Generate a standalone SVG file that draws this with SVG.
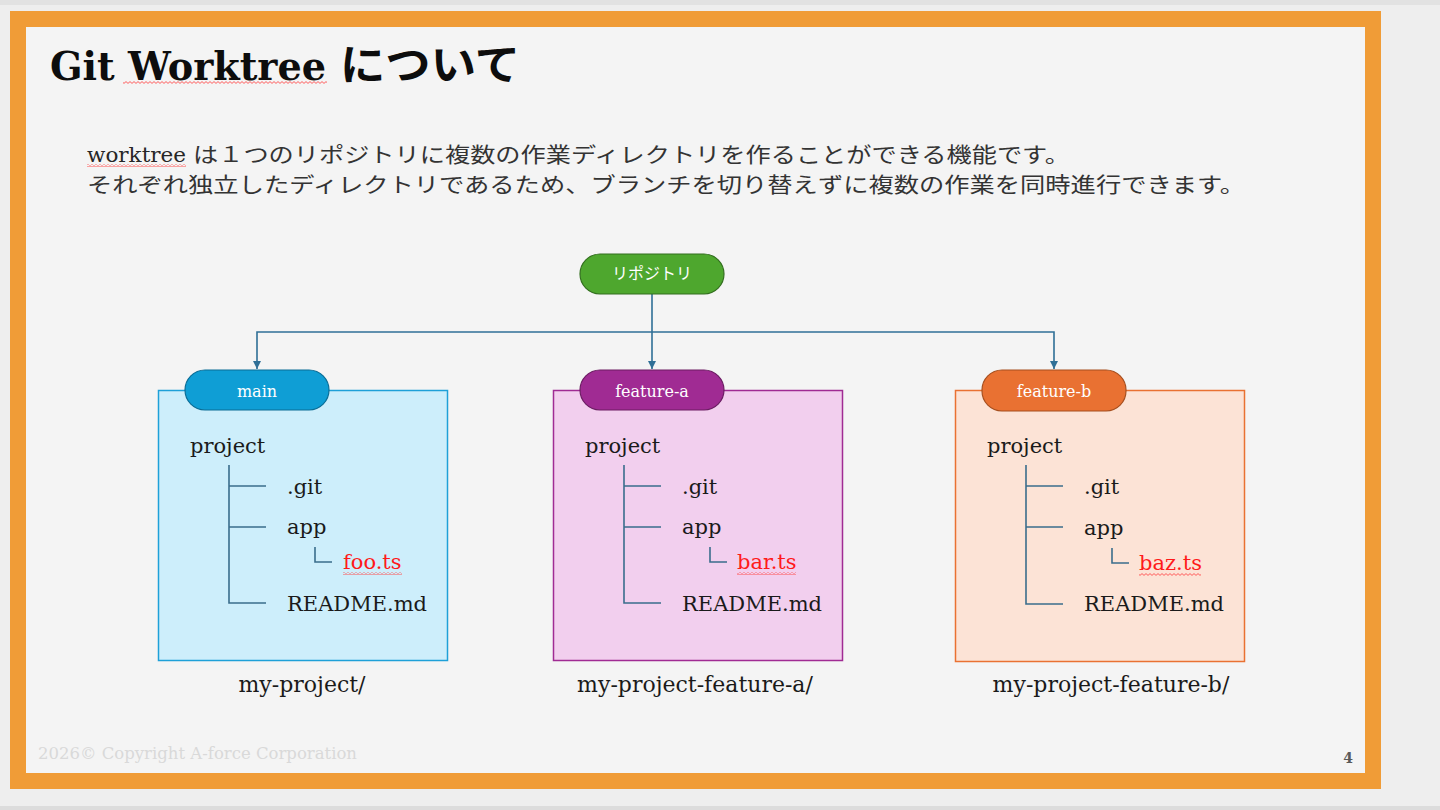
<svg xmlns="http://www.w3.org/2000/svg" width="1440" height="810" viewBox="0 0 1440 810">
<defs>
<style>
.jp{font-family:"Noto Sans CJK JP","Noto Sans",sans-serif;}
.sr{font-family:"DejaVu Serif","Liberation Serif",serif;}
.tree{font-family:"DejaVu Serif","Liberation Serif",serif;font-size:21px;fill:#1a1a1a;}
.red{fill:#ff1a1a;}
.pilltxt{font-family:"DejaVu Serif","Liberation Serif",serif;font-size:16px;fill:#ffffff;text-anchor:middle;}
.cap{font-family:"DejaVu Serif","Liberation Serif",serif;font-size:22px;fill:#1a1a1a;text-anchor:middle;}
.tl{stroke:#3a6d8c;stroke-width:1.6;fill:none;}
.conn{stroke:#2f6f96;stroke-width:1.6;fill:none;}
</style>
<pattern id="wavy" patternUnits="userSpaceOnUse" width="4" height="3">
<path d="M0,2.4 L2,0.6 L4,2.4" stroke="#ff4d4d" stroke-width="0.9" fill="none"/>
</pattern>
<marker id="arr" markerWidth="10" markerHeight="10" refX="8" refY="5" orient="auto" markerUnits="userSpaceOnUse">
<path d="M0,1 L8,5 L0,9 Z" fill="#2f6f96"/>
</marker>
</defs>
<rect x="0" y="0" width="1440" height="810" fill="#eeeeee"/>
<rect x="0" y="0" width="1440" height="5" fill="#e2e2e2"/>
<rect x="0" y="806" width="1440" height="4" fill="#dcdcdc"/>
<rect x="10" y="11" width="1371" height="778" fill="#f09c37"/>
<rect x="26" y="27" width="1339" height="746" fill="#f4f4f4"/>

<g id="title">
<text x="50" y="80" class="sr" font-size="40" font-weight="bold" fill="#0d0d0d" textLength="276" lengthAdjust="spacingAndGlyphs">Git Worktree</text>
<text x="340" y="80" class="jp" font-size="42" font-weight="bold" fill="#0d0d0d" textLength="180" lengthAdjust="spacingAndGlyphs">について</text>
<rect x="123" y="81" width="204" height="3" fill="url(#wavy)"/>
</g>

<g id="description">
<text x="87" y="162" class="sr" font-size="20" fill="#262626" textLength="99" lengthAdjust="spacingAndGlyphs">worktree</text>
<rect x="87" y="164" width="99" height="3" fill="url(#wavy)"/>
<text x="193" y="162" class="jp" font-size="21" fill="#333333" textLength="877" lengthAdjust="spacingAndGlyphs">は１つのリポジトリに複数の作業ディレクトリを作ることができる機能です。</text>
<text x="87" y="192" class="jp" font-size="21" fill="#333333" textLength="1158" lengthAdjust="spacingAndGlyphs">それぞれ独立したディレクトリであるため、ブランチを切り替えずに複数の作業を同時進行できます。</text>
</g>

<g id="connectors">
<path class="conn" d="M652,294 V369" marker-end="url(#arr)"/>
<path class="conn" d="M652,332 H257 V369" marker-end="url(#arr)"/>
<path class="conn" d="M652,332 H1054 V369" marker-end="url(#arr)"/>
</g>

<g id="repo">
<rect x="580" y="254" width="144" height="40" rx="20" fill="#4ea72e" stroke="#336f1f" stroke-width="1.2"/>
<text x="652" y="279" class="jp" font-size="16" fill="#ffffff" text-anchor="middle">リポジトリ</text>
</g>

<g id="main">
<rect x="158.5" y="390.5" width="289" height="270" fill="#cdeefb" stroke="#1ea0d8" stroke-width="1.5"/>
<rect x="185" y="370" width="144" height="40" rx="20" fill="#0f9ed5" stroke="#0b6d96" stroke-width="1.2"/>
<text x="257" y="397" class="pilltxt">main</text>
<text x="190" y="453" class="tree">project</text>
<path class="tl" d="M229,465 V603 H266 M229,486 H266 M229,527 H266 M315,547 V562 H332"/>
<text x="287" y="494" class="tree">.git</text>
<text x="287" y="534" class="tree">app</text>
<text x="343" y="569" class="tree red">foo.ts</text>
<rect x="343" y="572" width="59" height="3" fill="url(#wavy)"/>
<text x="287" y="611" class="tree">README.md</text>
<text x="302" y="692" class="cap">my-project/</text>
</g>

<g id="feature-a">
<rect x="553.5" y="390.5" width="289" height="270" fill="#f2cfee" stroke="#a02b93" stroke-width="1.5"/>
<rect x="580" y="370" width="144" height="40" rx="20" fill="#a02b93" stroke="#6c1d63" stroke-width="1.2"/>
<text x="652" y="397" class="pilltxt">feature-a</text>
<text x="585" y="453" class="tree">project</text>
<path class="tl" d="M624,465 V603 H661 M624,486 H661 M624,527 H661 M710,547 V562 H727"/>
<text x="682" y="494" class="tree">.git</text>
<text x="682" y="534" class="tree">app</text>
<text x="737" y="569" class="tree red">bar.ts</text>
<rect x="737" y="572" width="59" height="3" fill="url(#wavy)"/>
<text x="682" y="611" class="tree">README.md</text>
<text x="695" y="692" class="cap">my-project-feature-a/</text>
</g>

<g id="feature-b">
<rect x="955.5" y="390.5" width="289" height="271" fill="#fce3d6" stroke="#e97132" stroke-width="1.5"/>
<rect x="982" y="370" width="144" height="41" rx="20" fill="#e97132" stroke="#a64f1f" stroke-width="1.2"/>
<text x="1054" y="397" class="pilltxt">feature-b</text>
<text x="987" y="453" class="tree">project</text>
<path class="tl" d="M1026,465 V604 H1063 M1026,486 H1063 M1026,527 H1063 M1112,548 V563 H1129"/>
<text x="1084" y="494" class="tree">.git</text>
<text x="1084" y="535" class="tree">app</text>
<text x="1139" y="570" class="tree red">baz.ts</text>
<rect x="1139" y="573" width="62" height="3" fill="url(#wavy)"/>
<text x="1084" y="611" class="tree">README.md</text>
<text x="1111" y="692" class="cap">my-project-feature-b/</text>
</g>

<g id="footer">
<text x="38" y="759" class="sr" font-size="16" fill="#d9d9d9" textLength="319" lengthAdjust="spacingAndGlyphs">2026© Copyright A-force Corporation</text>
<text x="1353" y="763" class="sr" font-size="14" font-weight="bold" fill="#595959" text-anchor="end">4</text>
</g>
</svg>
